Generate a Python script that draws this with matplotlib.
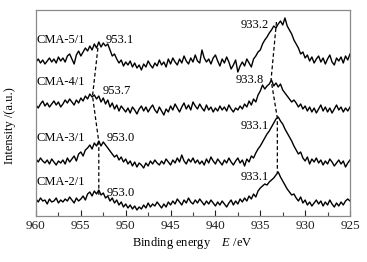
import numpy as np
import matplotlib
matplotlib.use("Agg")
import matplotlib.pyplot as plt
from matplotlib.ticker import MultipleLocator

plt.rcParams['font.family'] = ['Liberation Serif', 'DejaVu Serif']
plt.rcParams['mathtext.fontset'] = 'custom'
plt.rcParams['mathtext.rm'] = 'Liberation Serif'
plt.rcParams['mathtext.it'] = 'Liberation Serif:italic'

# binding energy grid (eV), 960 -> 925 in 0.25 eV steps
energy = np.arange(960.0, 924.99, -0.25)

cma_5_1 = [
    200, 203, 199, 202, 198, 201, 204, 200, 203, 199, 205, 201, 204, 200, 206, 208,
    203, 198, 207, 211, 206, 210, 214, 211, 216, 212, 218, 214, 220, 215, 219, 216,
    218, 212, 206, 208, 203, 199, 202, 196, 200, 197, 201, 195, 199, 194, 197, 192,
    198, 195, 201, 197, 194, 199, 196, 202, 197, 200, 195, 203, 198, 204, 200, 197,
    203, 199, 206, 201, 198, 204, 200, 207, 201, 199, 212, 204, 200, 203, 198, 204,
    207, 201, 196, 203, 199, 205, 200, 193, 197, 202, 190, 196, 200, 196, 203, 199,
    195, 203, 206, 210, 212, 218, 222, 225, 229, 232, 236, 234, 238, 241, 237, 244,
    236, 232, 228, 222, 218, 214, 208, 210, 204, 207, 201, 205, 199, 203, 206, 200,
    204, 198, 203, 207, 200, 197, 204, 201, 205, 199, 206, 202, 208]

cma_4_1 = [
    157, 154, 158, 161, 156, 159, 155, 158, 161, 157, 160, 155, 158, 162, 159, 163,
    160, 157, 162, 159, 164, 161, 166, 163, 168, 165, 167, 163, 166, 160, 164, 158,
    162, 155, 159, 153, 157, 151, 156, 153, 150, 154, 149, 155, 152, 148, 153, 156,
    151, 155, 150, 154, 157, 152, 149, 155, 151, 147, 153, 150, 156, 152, 158, 154,
    150, 155, 159, 153, 157, 152, 160, 156, 153, 158, 154, 151, 157, 152, 155, 150,
    154, 151, 156, 152, 155, 151, 157, 153, 150, 154, 152, 156, 153, 158, 155, 161,
    157, 163, 160, 167, 171, 177, 173, 176, 178, 182, 176, 179, 175, 178, 172, 169,
    166, 163, 160, 162, 159, 155, 158, 153, 156, 151, 155, 150, 154, 149, 153, 157,
    151, 155, 150, 154, 149, 153, 157, 152, 155, 150, 154, 151, 155]

cma_3_1 = [
    103, 100, 104, 101, 99, 102, 98, 103, 100, 97, 101, 99, 102, 98, 104, 100,
    103, 106, 101, 108, 110, 106, 112, 114, 117, 113, 119, 116, 121, 116, 120, 117,
    114, 111, 108, 105, 107, 102, 105, 100, 103, 98, 101, 96, 100, 95, 99, 97,
    94, 99, 96, 101, 98, 102, 99, 97, 101, 98, 103, 100, 97, 102, 99, 104,
    100, 107, 101, 98, 103, 100, 104, 99, 102, 98, 101, 97, 103, 99, 105, 101,
    98, 103, 100, 97, 102, 99, 104, 100, 97, 101, 104, 99, 102, 96, 103, 100,
    106, 104, 109, 113, 116, 120, 124, 128, 131, 135, 139, 143, 145, 141, 138, 133,
    129, 125, 121, 116, 112, 108, 110, 104, 101, 105, 98, 103, 100, 104, 99, 102,
    97, 101, 98, 103, 100, 96, 99, 102, 98, 101, 95, 99, 102]

cma_2_1 = [
    63, 60, 64, 61, 62, 58, 63, 60, 61, 64, 59, 62, 60, 63, 61, 65,
    62, 59, 64, 61, 63, 66, 62, 68, 70, 66, 71, 68, 72, 67, 69, 64,
    66, 61, 64, 59, 62, 57, 60, 55, 58, 54, 57, 53, 56, 52, 55, 53,
    57, 54, 59, 55, 58, 56, 60, 57, 54, 58, 55, 60, 57, 61, 58, 63,
    60, 57, 62, 59, 64, 60, 58, 62, 59, 63, 60, 57, 61, 58, 62, 59,
    56, 60, 57, 61, 58, 55, 59, 62, 57, 61, 58, 63, 60, 64, 61, 66,
    63, 68, 65, 71, 74, 76, 78, 77, 80, 82, 84, 87, 90, 85, 81, 77,
    73, 70, 67, 68, 64, 61, 65, 59, 62, 57, 60, 56, 59, 62, 58, 61,
    56, 60, 57, 62, 58, 55, 59, 56, 60, 57, 61, 63, 61]

sample_names = ["CMA-5/1", "CMA-4/1", "CMA-3/1", "CMA-2/1"]
peak_2p1 = [953.1, 953.7, 953.0, 953.0]   # Cu 2p1/2
peak_2p3 = [933.2, 933.8, 933.1, 933.1]   # Cu 2p3/2
peak_2p1_height = [214, 166, 120, 66]
peak_2p3_height = [240, 182, 144, 89]

fig = plt.figure(figsize=(3.67, 2.62), dpi=100)
ax = fig.add_axes([36/367, 1 - 216/262, 314/367, 206/262])

for series in [cma_5_1, cma_4_1, cma_3_1, cma_2_1]:
    ax.plot(energy, series, color='black', lw=1.0)

ax.plot(peak_2p1, peak_2p1_height, color='black', lw=0.9, ls=(0, (3, 2)))
ax.plot(peak_2p3, peak_2p3_height, color='black', lw=0.9, ls=(0, (3, 2)))

ax.set_xlim(960, 925)
ax.set_ylim(46, 252)
ax.xaxis.set_major_locator(MultipleLocator(5))
ax.xaxis.set_minor_locator(MultipleLocator(2.5))
ax.tick_params(axis='x', which='major', direction='in', length=4, width=0.8,
               labelsize=9.5, pad=3, colors='#222222')
ax.tick_params(axis='x', which='minor', direction='in', length=3, width=0.8,
               colors='#444444')
ax.set_yticks([])
for s in ax.spines.values():
    s.set_color('#8a8a8a')
    s.set_linewidth(0.9)

fs = 9
# sample labels
name_pos = [(959.9, 222), (959.9, 180), (959.9, 124), (959.9, 80)]
for name, (x, y) in zip(sample_names, name_pos):
    ax.text(x, y, name, fontsize=fs, ha='left', va='center')
p1_pos = [(952.2, 222), (952.6, 171), (952.1, 124), (952.1, 69)]
for v, (x, y) in zip(peak_2p1, p1_pos):
    ax.text(x, y, f"{v:.1f}", fontsize=fs, ha='left', va='center')
p3_pos = [(934.0, 237), (934.6, 182), (934.0, 136), (934.0, 85)]
for v, (x, y) in zip(peak_2p3, p3_pos):
    ax.text(x, y, f"{v:.1f}", fontsize=fs, ha='right', va='center')

fig.text(10/367, 1 - 126/262, "Intensity /(a.u.)", rotation=90, fontsize=fs,
         ha='center', va='center')
fig.text(192/367, 1 - 243/262, r"Binding energy    $E$ /eV", fontsize=fs,
         ha='center', va='center')

fig.savefig("out.png", dpi=100)
